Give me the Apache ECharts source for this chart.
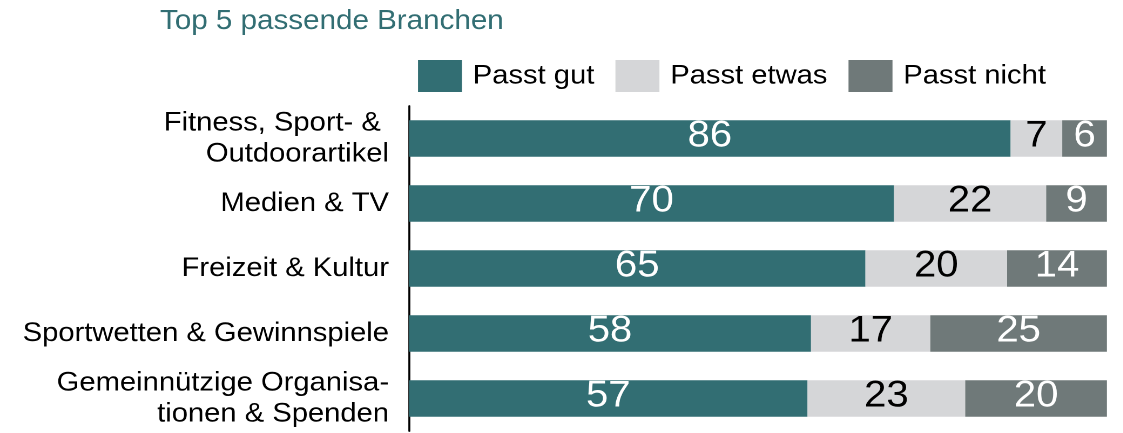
<!DOCTYPE html>
<html>
<head>
<meta charset="utf-8">
<script src="https://cdn.jsdelivr.net/npm/echarts@6/dist/echarts.min.js"></script>
<style>
html,body{margin:0;padding:0;background:#fff;overflow:hidden;}
#wrap{width:1123px;height:433px;overflow:hidden;}
#chart{height:433px;transform-origin:0 0;}
</style>
</head>
<body>
<div id="wrap"><div id="chart"></div></div>
<script>
// Categories (top to bottom)
var categories = [
  "Fitness, Sport- & \nOutdoorartikel",
  "Medien & TV",
  "Freizeit & Kultur",
  "Sportwetten & Gewinnspiele",
  "Gemeinnützige Organisa-\ntionen & Spenden"
];
// Shares in percent (labels show rounded values)
var passtGut   = [86.2, 69.5, 65.4, 57.6, 57.1];
var passtEtwas = [7.4, 21.8, 20.3, 17.1, 22.6];
var passtNicht = [6.4, 8.7, 14.3, 25.4, 20.3];
var seriesNames = ["Passt gut", "Passt etwas", "Passt nicht"];
var colors = ["#326e73", "#d5d6d8", "#6f7979"];
var labelColors = ["#ffffff", "#000000", "#ffffff"];

// The reference text is slightly wide; render narrower and stretch horizontally.
var SX = 1.08;
var W = 1123 / SX;
var el = document.getElementById('chart');
el.style.width = W + 'px';
el.style.transform = 'scaleX(' + SX + ')';

var raw = [passtGut, passtEtwas, passtNicht];
var FONT = "'Liberation Sans', Arial, Helvetica, sans-serif";

var series = raw.map(function(arr, s){
  return {
    name: seriesNames[s],
    type: 'bar',
    stack: 'total',
    barWidth: 36.5,
    itemStyle: { color: colors[s] },
    label: {
      show: true,
      position: 'inside',
      offset: [0, -2],
      color: labelColors[s],
      fontFamily: FONT,
      fontSize: 37,
      formatter: function(p){ return Math.round(arr[p.dataIndex]); }
    },
    data: arr.slice()
  };
});

var chart = echarts.init(el, null, {renderer: 'canvas', devicePixelRatio: 2});
chart.setOption({
  animation: false,
  title: {
    text: "Top 5 passende Branchen",
    left: 160 / SX, top: 8, padding: 0,
    textStyle: { color: "#326e73", fontFamily: FONT, fontSize: 27.4, fontWeight: 'normal' }
  },
  legend: {
    left: 418 / SX, top: 60, padding: 0,
    icon: 'rect',
    itemWidth: 44 / SX, itemHeight: 32, itemGap: 19.5,
    textStyle: { fontFamily: FONT, fontSize: 27, color: '#000', padding: [0,0,0,5] },
    data: seriesNames
  },
  grid: { left: 409 / SX, right: 16.3 / SX, top: 106, bottom: 2, containLabel: false },
  xAxis: { type: 'value', min: 0, max: 100, show: false },
  yAxis: {
    type: 'category',
    inverse: true,
    data: categories,
    axisLine: { show: true, lineStyle: { color: '#000', width: 2 / SX } },
    axisTick: { show: false },
    axisLabel: { margin: 20 / SX, fontFamily: FONT, fontSize: 27, color: '#000', lineHeight: 31, align: 'right' }
  },
  series: series
});
</script>
</body>
</html>
